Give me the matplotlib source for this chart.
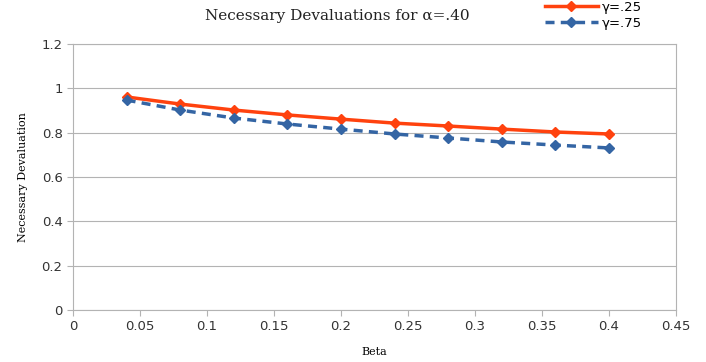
import numpy as np
import matplotlib
matplotlib.use("Agg")
import matplotlib.pyplot as plt

# data
beta = [0.04, 0.08, 0.12, 0.16, 0.20, 0.24, 0.28, 0.32, 0.36, 0.40]
dev_g25 = [0.961, 0.929, 0.902, 0.880, 0.861, 0.843, 0.830, 0.816, 0.803, 0.794]
dev_g75 = [0.947, 0.902, 0.866, 0.839, 0.816, 0.794, 0.776, 0.758, 0.744, 0.731]

fig = plt.figure(figsize=(7.06, 3.62), dpi=100)
ax = fig.add_axes([0.1034, 0.1436, 0.8541, 0.7349])

ax.plot(beta, dev_g25, color='#ff420e', lw=2.5, marker='D', ms=5.5, label='γ=.25')
ax.plot(beta, dev_g75, color='#3465a4', lw=2.5, ls=(0, (2.6, 1.8)), marker='D', ms=5.5, label='γ=.75')

ax.set_xlim(0, 0.45)
ax.set_ylim(0, 1.2)
ax.set_xticks(np.arange(0, 0.451, 0.05))
ax.set_xticklabels(['0', '0.05', '0.1', '0.15', '0.2', '0.25', '0.3', '0.35', '0.4', '0.45'])
ax.set_yticks(np.arange(0, 1.21, 0.2))
ax.set_yticklabels(['0', '0.2', '0.4', '0.6', '0.8', '1', '1.2'])
ax.grid(axis='y', color='#b3b3b3', lw=0.8)
ax.set_axisbelow(True)
for s in ax.spines.values():
    s.set_color('#b3b3b3')
    s.set_linewidth(0.8)
ax.tick_params(colors='#b3b3b3', labelcolor='#333333', labelsize=9.5, length=4, width=0.8)

ax.set_xlabel('Beta', family='DejaVu Serif', fontsize=8, labelpad=10)
ax.set_ylabel('Necessary Devaluation', family='DejaVu Serif', fontsize=8, labelpad=10)
fig.text(0.478, 0.955, 'Necessary Devaluations for α=.40', family='DejaVu Serif',
         fontsize=11, ha='center', va='center', color='#222222')

fig.legend(loc='upper left', bbox_to_anchor=(0.755, 1.03), frameon=False,
           fontsize=9.5, handlelength=4, handletextpad=0.3, labelspacing=0.2)

fig.savefig('out.png', dpi=100)
